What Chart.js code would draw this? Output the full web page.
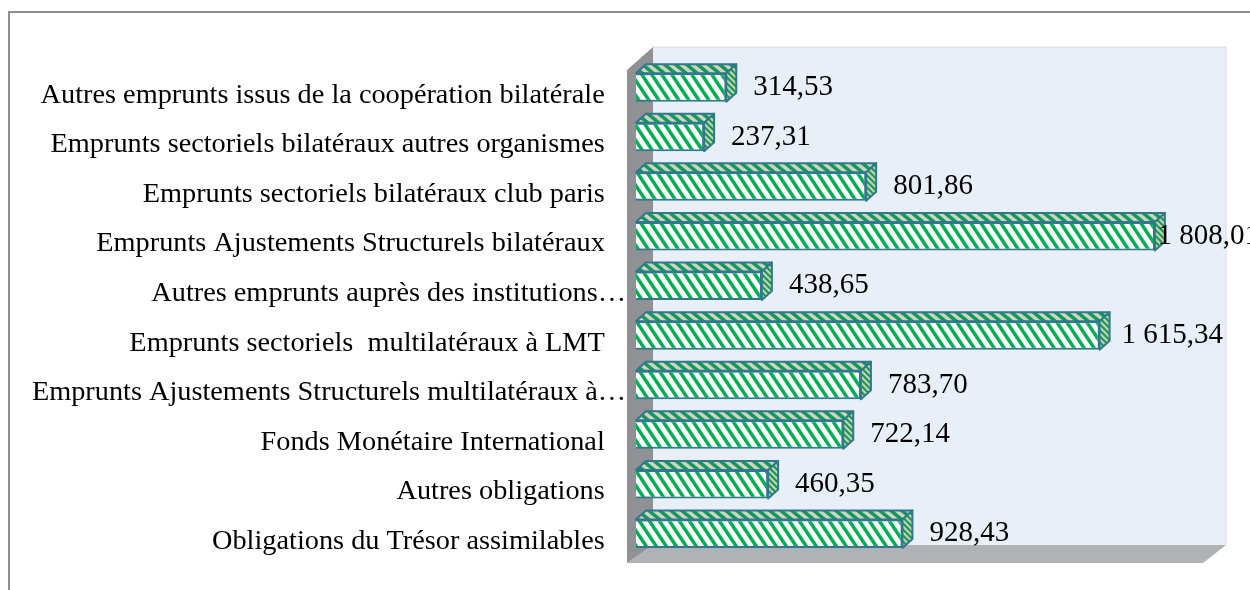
<!DOCTYPE html>
<html>
<head>
	<meta charset="utf-8">
	<title>Emprunts</title>
	<script src="https://cdn.jsdelivr.net/npm/chart.js"></script>
	<style>
		html, body { margin:0; padding:0; background:#fff; overflow:hidden; }
		canvas { display:block; }
	</style>
</head>
<body>
<canvas id="debtChart" width="1250" height="590"></canvas>
<script>
const categories = [
	"Autres emprunts issus de la coopération bilatérale   ",
	"Emprunts sectoriels bilatéraux autres organismes   ",
	"Emprunts sectoriels bilatéraux club paris   ",
	"Emprunts Ajustements Structurels bilatéraux   ",
	"Autres emprunts auprès des institutions…",
	"Emprunts sectoriels  multilatéraux à LMT   ",
	"Emprunts Ajustements Structurels multilatéraux à…",
	"Fonds Monétaire International   ",
	"Autres obligations   ",
	"Obligations du Trésor assimilables   "
];
const values = [314.53, 237.31, 801.86, 1808.01, 438.65, 1615.34, 783.70, 722.14, 460.35, 928.43];
const valueLabels = ["314,53", "237,31", "801,86", "1 808,01", "438,65", "1 615,34", "783,70", "722,14", "460,35", "928,43"];

const FONT = "'Liberation Serif', serif";
const DEPTH_X = 10, DEPTH_Y = 9;
const LINE = "#31788f", GREEN = "#00b050";

// small tile with diagonal stripes, used for the bar faces
function stripes(period, rise, light, dark, share) {
	let c = document.createElement("canvas");
	c.width = period; c.height = rise;
	let g = c.getContext("2d");
	g.fillStyle = light;
	g.fillRect(0, 0, c.width, c.height);
	g.fillStyle = dark;
	let w = period * share;
	for (let i = -2; i < 3; i++) {
		g.beginPath();
		g.moveTo(i * period, 0);
		g.lineTo(i * period + w, 0);
		g.lineTo(i * period + w + period, c.height);
		g.lineTo(i * period + period, c.height);
		g.closePath();
		g.fill();
	}
	return g.createPattern(c, "repeat");
}

function poly(ctx, pts, fill, stroke) {
	ctx.beginPath();
	pts.forEach((p, i) => i ? ctx.lineTo(p[0], p[1]) : ctx.moveTo(p[0], p[1]));
	ctx.closePath();
	if (fill) { ctx.fillStyle = fill; ctx.fill(); }
	if (stroke) { ctx.strokeStyle = stroke; ctx.lineWidth = 2; ctx.lineJoin = "round"; ctx.stroke(); }
}

// frame and the 3D walls behind the bars
const walls = {
	id: "walls",
	beforeDraw(chart) {
		const { ctx, chartArea: a } = chart;
		ctx.save();
		ctx.strokeStyle = "#8e8e8e";
		ctx.lineWidth = 2;
		ctx.beginPath();
		ctx.moveTo(9, 590); ctx.lineTo(9, 12); ctx.lineTo(1250, 12);
		ctx.stroke();
		poly(ctx, [[a.left + 17, a.top - 15.6], [a.right + 16, a.top - 15.6], [a.right + 16, a.bottom - 13.6], [a.left + 17, a.bottom - 13.6]], "#e8eff6");
		ctx.strokeStyle = "#d9dcdf";
		ctx.lineWidth = 1;
		ctx.beginPath();
		ctx.moveTo(a.left + 17, a.top - 15.6); ctx.lineTo(a.right + 16, a.top - 15.6); ctx.lineTo(a.right + 16, a.bottom - 13.6);
		ctx.stroke();
		poly(ctx, [[a.left + 17, a.bottom - 13.6], [a.right + 16, a.bottom - 13.6], [a.right - 7, a.bottom + 4.4], [a.left - 9, a.bottom + 4.4]], "#b0b3b6");
		poly(ctx, [[a.left - 9, a.top + 7.4], [a.left + 17, a.top - 15.6], [a.left + 17, a.bottom - 13.6], [a.left - 9, a.bottom + 4.4]], "#8f9194");
		ctx.restore();
	}
};

// top and side faces of each bar, plus the value labels
const bars3d = {
	id: "bars3d",
	afterDatasetsDraw(chart) {
		const { ctx } = chart;
		const topFill = stripes(11, 9, "#d2d2c4", "#0e9a58", 0.5);
		const sideFill = stripes(6, 6, "#cfcfb0", "#0e9a58", 0.5);
		ctx.save();
		chart.getDatasetMeta(0).data.forEach((bar, i) => {
			let y0 = bar.y - bar.height / 2, y1 = bar.y + bar.height / 2;
			poly(ctx, [[bar.base, y0], [bar.base + DEPTH_X, y0 - DEPTH_Y], [bar.x + DEPTH_X, y0 - DEPTH_Y], [bar.x, y0]], topFill, LINE);
			poly(ctx, [[bar.x, y0], [bar.x + DEPTH_X, y0 - DEPTH_Y], [bar.x + DEPTH_X, y1 - DEPTH_Y], [bar.x, y1]], sideFill, LINE);
			ctx.fillStyle = "#000";
			ctx.font = "29px " + FONT;
			ctx.textAlign = "left";
			ctx.textBaseline = "middle";
			let w = ctx.measureText(valueLabels[i]).width;
			// labels wider than the room left get pulled back over the bar
			let x = bar.x + (w > 90 ? 22 : 27);
			ctx.fillText(valueLabels[i], Math.min(x, chart.width - w + 9), bar.y);
		});
		ctx.restore();
	}
};

new Chart(document.getElementById("debtChart"), {
	type: "bar",
	data: {
		// the empty first line drops each axis label a little below its bar
		labels: categories.map(c => ["", c]),
		datasets: [{
			data: values,
			backgroundColor: stripes(10, 15, "#ffffff", GREEN, 0.42),
			borderColor: LINE,
			borderWidth: 2,
			categoryPercentage: 1,
			barPercentage: 0.575
		}]
	},
	options: {
		indexAxis: "y",
		responsive: false,
		animation: false,
		layout: { padding: { top: 62.6, bottom: 31.4, left: 0, right: 40 } },
		plugins: { legend: { display: false }, tooltip: { enabled: false } },
		scales: {
			x: { min: 0, max: 2000, display: false },
			y: {
				grid: { display: false },
				border: { display: false },
				afterFit(scale) { scale.width = 636; },
				ticks: { color: "#000", padding: 2, autoSkip: false, font: { family: FONT, size: 28.3, lineHeight: 0.55 } }
			}
		}
	},
	plugins: [walls, bars3d]
});
</script>
</body>
</html>
